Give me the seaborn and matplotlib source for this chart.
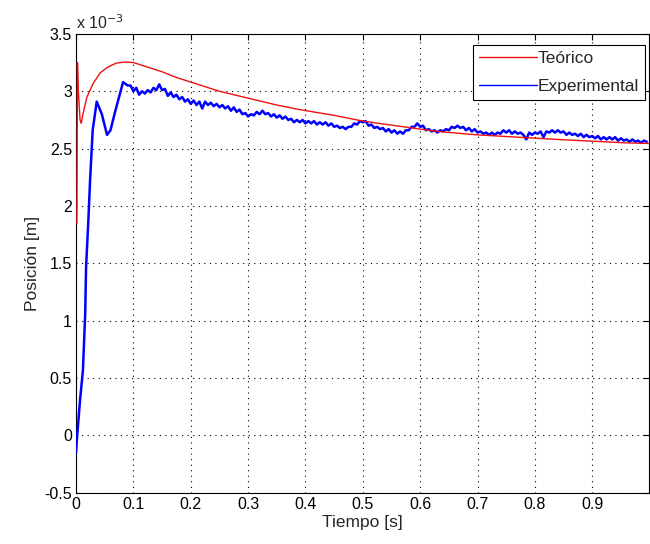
import numpy as np
import matplotlib
matplotlib.use("Agg")
import matplotlib.pyplot as plt
from matplotlib.ticker import FuncFormatter
import seaborn as sns

# Theoretical response (position in units of 1e-3 m)
teo_t = [0.0015, 0.0025, 0.004, 0.007, 0.009, 0.012, 0.019, 0.03, 0.042, 0.055, 0.07,
         0.085, 0.1, 0.125, 0.15, 0.175, 0.2, 0.25, 0.3, 0.35, 0.39, 0.45, 0.5,
         0.571, 0.63, 0.7, 0.77, 0.84, 0.9, 0.96, 1.0]
teo_pos = [1.85, 3.25, 3.0, 2.75, 2.72, 2.8, 2.95, 3.07, 3.16, 3.21, 3.245,
           3.255, 3.25, 3.21, 3.17, 3.12, 3.08, 3.0, 2.94, 2.88, 2.84, 2.79, 2.74,
           2.69, 2.65, 2.62, 2.6, 2.58, 2.565, 2.55, 2.545]

# Experimental response, initial rise
exp_t_early = [0.0, 0.0012, 0.004, 0.007, 0.012, 0.016, 0.0175, 0.0215, 0.0245,
               0.029, 0.036, 0.045, 0.054, 0.06, 0.068, 0.075, 0.082, 0.09]
exp_pos_early = [-0.15, -0.05, 0.12, 0.31, 0.57, 1.07, 1.47, 1.88, 2.23,
                 2.66, 2.91, 2.8, 2.62, 2.66, 2.82, 2.95, 3.08, 3.05]

# Experimental response sampled every 5 ms from 0.095 s to 0.995 s
exp_pos_late = [
    3.05, 3.00, 3.03, 2.97, 3.00, 2.98, 3.01, 2.99, 3.03, 3.01,
    3.06, 3.01, 3.02, 2.96, 2.99, 2.95, 2.97, 2.93, 2.95, 2.91,
    2.93, 2.89, 2.92, 2.88, 2.91, 2.85, 2.91, 2.88, 2.90, 2.87,
    2.89, 2.86, 2.88, 2.85, 2.87, 2.83, 2.86, 2.82, 2.84, 2.80,
    2.81, 2.78, 2.80, 2.79, 2.82, 2.80, 2.83, 2.80, 2.81, 2.78,
    2.80, 2.77, 2.79, 2.76, 2.78, 2.75, 2.76, 2.73, 2.75, 2.73,
    2.75, 2.72, 2.74, 2.72, 2.74, 2.71, 2.73, 2.71, 2.73, 2.70,
    2.72, 2.69, 2.70, 2.68, 2.69, 2.67, 2.69, 2.69, 2.72, 2.71,
    2.74, 2.73, 2.74, 2.70, 2.71, 2.68, 2.69, 2.67, 2.68, 2.65,
    2.67, 2.64, 2.66, 2.63, 2.65, 2.63, 2.66, 2.66, 2.69, 2.69,
    2.72, 2.69, 2.70, 2.66, 2.67, 2.65, 2.66, 2.64, 2.66, 2.65,
    2.67, 2.66, 2.69, 2.68, 2.70, 2.68, 2.69, 2.66, 2.68, 2.65,
    2.67, 2.64, 2.65, 2.63, 2.64, 2.62, 2.64, 2.62, 2.64, 2.63,
    2.66, 2.64, 2.66, 2.63, 2.65, 2.63, 2.64, 2.62, 2.58, 2.64,
    2.62, 2.64, 2.63, 2.65, 2.60, 2.65, 2.64, 2.66, 2.64, 2.66,
    2.64, 2.65, 2.62, 2.64, 2.62, 2.63, 2.61, 2.63, 2.60, 2.62,
    2.60, 2.61, 2.59, 2.61, 2.58, 2.60, 2.58, 2.60, 2.58, 2.60,
    2.57, 2.59, 2.57, 2.58, 2.56, 2.58, 2.56, 2.57, 2.55, 2.57,
    2.56,
]
exp_t_late = np.linspace(0.095, 0.995, len(exp_pos_late))

exp_t = np.concatenate([exp_t_early, exp_t_late])
exp_pos = np.concatenate([exp_pos_early, exp_pos_late])

sns.set_style("white")
plt.rcParams["font.family"] = ["Liberation Sans", "DejaVu Sans"]

fig = plt.figure(figsize=(6.5, 5.44), dpi=100)
ax = fig.add_axes([0.117, 0.094, 0.8815, 0.8437])

sns.lineplot(x=teo_t, y=teo_pos, color="#ee1111", linewidth=1.0, sort=False,
             estimator=None, label="Teórico", ax=ax, zorder=4)
sns.lineplot(x=exp_t, y=exp_pos, color="#0000ff", linewidth=1.8, sort=False,
             estimator=None, label="Experimental", ax=ax, zorder=3)

ax.set_xlim(0, 0.999)
ax.set_ylim(-0.5, 3.5)
ax.set_xticks(np.arange(0, 0.95, 0.1))
ax.set_yticks(np.arange(-0.5, 3.6, 0.5))
ax.xaxis.set_major_formatter(FuncFormatter(lambda v, p: f"{v:g}"))
ax.yaxis.set_major_formatter(FuncFormatter(lambda v, p: f"{v:g}"))
ax.tick_params(direction="in", length=4, width=0.8, top=True, right=True,
               labelsize=11.5, colors="black", pad=3)
ax.grid(True, linestyle=(0, (1, 4)), color="black", linewidth=0.8)
for s in ax.spines.values():
    s.set_color("black")
    s.set_linewidth(0.8)

ax.set_xlabel("Tiempo [s]", fontsize=12.5, labelpad=2)
ax.set_ylabel("Posición [m]", fontsize=12.5, labelpad=3)
ax.text(0.0, 1.005, r"x 10$^{-3}$", transform=ax.transAxes, fontsize=11.5,
        ha="left", va="bottom")

leg = ax.legend(loc="upper right", bbox_to_anchor=(0.993, 0.976), borderaxespad=0,
                fontsize=12.5, frameon=True, fancybox=False, edgecolor="black",
                framealpha=1, handlelength=3.3, handletextpad=0.05,
                borderpad=0.35, labelspacing=0.75)
leg.get_frame().set_linewidth(0.8)
for line in leg.get_lines():
    line.set_linewidth(1.0)

fig.savefig("out.png", dpi=100, facecolor="white")
